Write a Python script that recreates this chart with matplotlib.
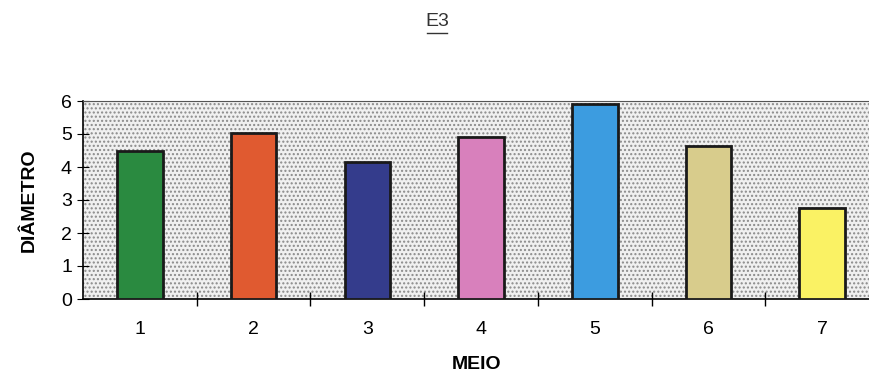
import matplotlib
matplotlib.use("Agg")
import matplotlib.pyplot as plt

meio = [1, 2, 3, 4, 5, 6, 7]
diametro = [4.5, 5.03, 4.15, 4.9, 5.9, 4.64, 2.76]
cores = ["#2a8a40", "#e05a30", "#343c8c", "#d880bc", "#3c9ce0", "#d8cc8c", "#faf264"]

plt.rcParams["font.family"] = ["Liberation Sans", "DejaVu Sans"]

fig = plt.figure(figsize=(8.7, 3.76), dpi=100)
ax = fig.add_axes([83 / 870, 77 / 376, 1 - 83 / 870, 198 / 376])

ax.set_facecolor("#f0f0f0")
ax.patch.set_hatch("....")
ax.patch.set_edgecolor("#8a8a8a")
ax.patch.set_linewidth(0)

ax.bar(meio, diametro, width=0.4, color=cores, edgecolor="#1a1a1a", linewidth=2, zorder=3)

ax.set_xlim(0.5, 7.42)
ax.set_ylim(0, 6)
ax.set_yticks(range(7))
ax.set_xticks(meio)
ax.set_xticks([1.5, 2.5, 3.5, 4.5, 5.5, 6.5], minor=True)
ax.tick_params(axis="x", which="major", length=0, labelsize=14, pad=16)
ax.tick_params(axis="x", which="minor", length=10, direction="inout", width=1)
ax.tick_params(axis="y", length=8, direction="inout", labelsize=14, pad=4)

ax.spines["right"].set_visible(False)
ax.spines["top"].set_linestyle((0, (1, 1)))
ax.spines["top"].set_color("#555555")
ax.spines["left"].set_linewidth(1.2)
ax.spines["bottom"].set_linewidth(1.2)

ax.set_ylabel("DIÂMETRO", fontsize=14, fontweight="bold", labelpad=17)
ax.set_xlabel("MEIO", fontsize=14, fontweight="bold", labelpad=13)

fig.text(437 / 870, 1 - 22 / 376, "E3", ha="center", va="center", fontsize=14,
         color="#333333")
fig.add_artist(plt.Line2D([427 / 870, 447 / 870], [1 - 33 / 376, 1 - 33 / 376],
                          color="#333333", lw=1))

fig.savefig("out.png", dpi=100)
